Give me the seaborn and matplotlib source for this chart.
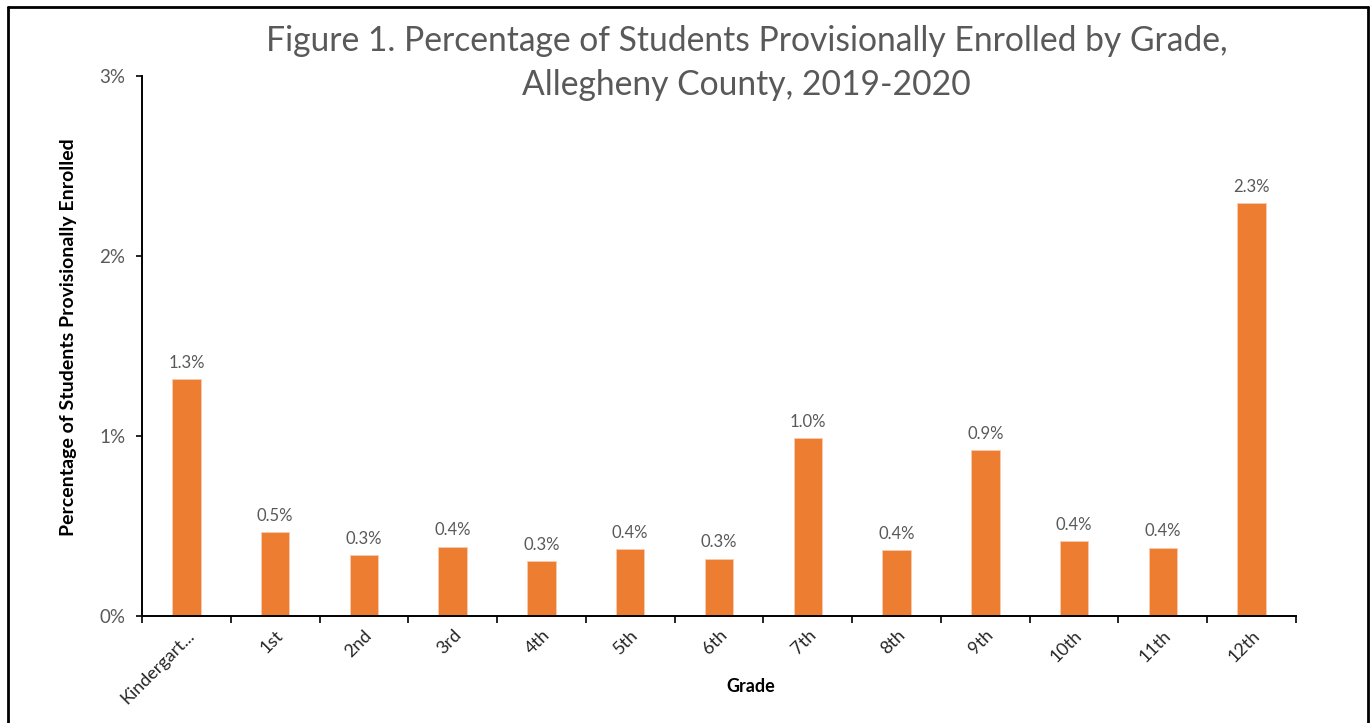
import matplotlib
matplotlib.use("Agg")
import matplotlib.pyplot as plt
import seaborn as sns
import pandas as pd
import numpy as np
from matplotlib.lines import Line2D
from matplotlib.ticker import FixedLocator, FuncFormatter

grades = ["Kindergart...", "1st", "2nd", "3rd", "4th", "5th", "6th",
          "7th", "8th", "9th", "10th", "11th", "12th"]
percent = [1.315, 0.465, 0.339, 0.385, 0.306, 0.372, 0.318,
           0.987, 0.367, 0.922, 0.417, 0.380, 2.293]
y_ticks = [0, 1, 2, 3]

title_text = "Figure 1. Percentage of Students Provisionally Enrolled by Grade,\nAllegheny County, 2019-2020"
x_label = "Grade"
y_label = "Percentage of Students Provisionally Enrolled"

sns.set_theme(style="white")
plt.rcParams["font.family"] = ["Lato", "DejaVu Sans"]

df = pd.DataFrame({"grade": grades, "pct": percent})

fig = plt.figure(figsize=(13.7, 7.23), dpi=100)
ax = fig.add_axes([142 / 1370, 1 - 616 / 723, (1296 - 142) / 1370, (616 - 76) / 723])

sns.barplot(data=df, x="grade", y="pct", color="#ED7D31", width=0.32,
            saturation=1, ax=ax, edgecolor="#F8CBAD", linewidth=0.6)

ax.set_ylim(0, 3)
ax.set_xlim(-0.5, len(grades) - 0.5)
ax.yaxis.set_major_locator(FixedLocator(y_ticks))
ax.yaxis.set_major_formatter(FuncFormatter(lambda v, p: f"{v:.0f}%"))

for c in ax.containers:
    ax.bar_label(c, labels=[f"{v:.1f}%" for v in percent], padding=6,
                 fontsize=12, color="#595959")

for s in ["top", "right"]:
    ax.spines[s].set_visible(False)
for s in ["left", "bottom"]:
    ax.spines[s].set_color("black")
    ax.spines[s].set_linewidth(1.4)

ax.tick_params(axis="y", which="major", direction="out", length=4, width=1.2,
               color="black", labelsize=13.5, labelcolor="#595959", left=True, pad=8)
ax.tick_params(axis="x", which="major", length=0, labelsize=13,
               labelcolor="#262626", pad=8)
ax.set_xticks(np.arange(-0.5, len(grades), 1.0), minor=True)
ax.tick_params(axis="x", which="minor", direction="out", length=5, width=1.2,
               color="black", bottom=True)
for lab in ax.get_xticklabels():
    lab.set_rotation(45)
    lab.set_ha("right")
    lab.set_rotation_mode("anchor")

ax.set_xlabel(x_label, fontsize=13, fontweight="bold", color="black")
ax.xaxis.set_label_coords((751 - 142) / 1154, -0.115)
ax.set_ylabel(y_label, fontsize=14, fontweight="bold", color="black")
ax.yaxis.set_label_coords((77 - 142) / 1154, 0.517)

fig.text(0.545, 1 - 63 / 723, title_text, ha="center", va="center",
         fontsize=24.2, color="#595959", linespacing=1.45)

# chart frame
fig.add_artist(Line2D([8 / 1370, 8 / 1370], [0, 1 - 7 / 723], transform=fig.transFigure,
                      color="black", linewidth=2))
fig.add_artist(Line2D([8 / 1370, 1368 / 1370], [1 - 7 / 723, 1 - 7 / 723],
                      transform=fig.transFigure, color="black", linewidth=2))
fig.add_artist(Line2D([1368 / 1370, 1368 / 1370], [0, 1 - 7 / 723],
                      transform=fig.transFigure, color="black", linewidth=2))

fig.savefig("out.png", dpi=100, facecolor="white")
